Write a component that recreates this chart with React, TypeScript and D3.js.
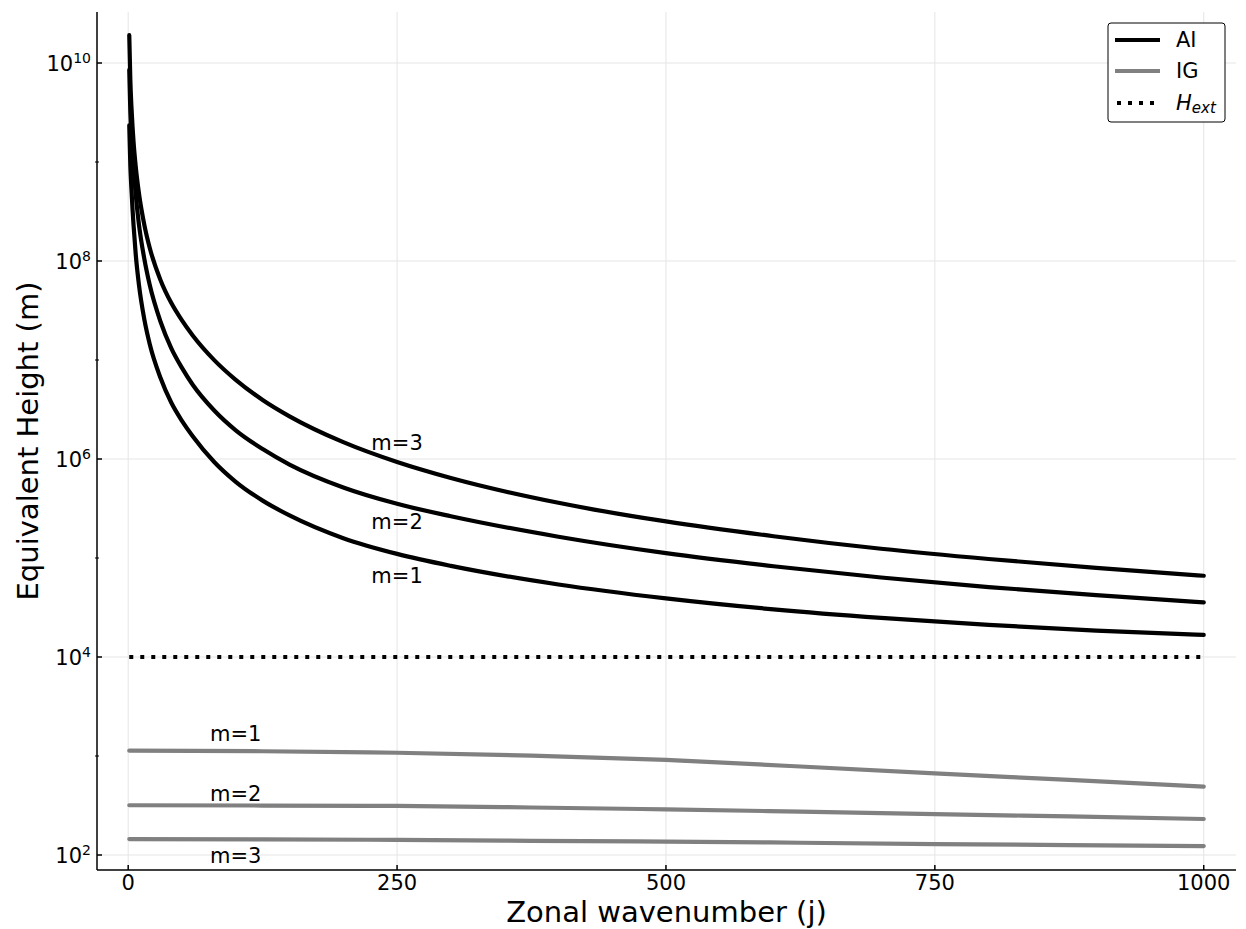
import React from 'react'
import * as d3 from 'd3'

const jAI = [1, 2, 3, 4, 5, 7, 10, 15, 20, 30, 40, 50, 60, 80, 100, 125, 150, 200, 250, 300, 400, 500, 600, 700, 800, 900, 1000]
const aiM1 = [2.34e9, 9.12e8, 5.37e8, 3.39e8, 2.29e8, 1.17e8, 5.75e7, 2.57e7, 1.45e7, 6.61e6, 3.72e6, 2.43e6, 1.7e6, 9.33e5, 5.89e5, 3.8e5, 2.69e5, 1.585e5, 1.1e5, 8.32e4, 5.4e4, 3.91e4, 3.03e4, 2.48e4, 2.11e4, 1.85e4, 1.67e4]
const aiM2 = [8.51e9, 3.16e9, 1.82e9, 1.2e9, 8.51e8, 4.68e8, 2.34e8, 1.05e8, 5.75e7, 2.45e7, 1.32e7, 8.32e6, 5.62e6, 3.09e6, 1.95e6, 1.26e6, 8.79e5, 5.16e5, 3.53e5, 2.64e5, 1.64e5, 1.12e5, 8.26e4, 6.35e4, 5.09e4, 4.22e4, 3.56e4]
const aiM3 = [1.91e10, 6.7e9, 3.65e9, 2.3e9, 1.59e9, 9.0e8, 4.82e8, 2.32e8, 1.36e8, 6.44e7, 3.78e7, 2.51e7, 1.77e7, 9.98e6, 6.31e6, 3.95e6, 2.7e6, 1.48e6, 9.33e5, 6.43e5, 3.61e5, 2.34e5, 1.66e5, 1.24e5, 9.77e4, 7.96e4, 6.62e4]

const jIG = [1, 125, 250, 375, 500, 625, 750, 875, 1000]
const igM1 = [1132, 1117, 1079, 1007, 912, 783, 668, 573, 490]
const igM2 = [318, 316, 313, 302, 289, 274, 259, 245, 231]
const igM3 = [145, 144, 142, 139, 136.5, 133, 129, 126, 123]

const hExt = 1e4
const hExtSpan = [1, 1000]

const xTicks = [0, 250, 500, 750, 1000]
const yMajorExp = [2, 4, 6, 8, 10]
const yMinorExp = [3, 5, 7, 9]

const aiLabels = ['m=1', 'm=2', 'm=3']
const aiLabelJ = [250, 250, 250]
const aiLabelH = [6.6e4, 2.3e5, 1.45e6]
const igLabels = ['m=1', 'm=2', 'm=3']
const igLabelJ = [100, 100, 100]
const igLabelH = [1660, 413, 98]

const W = 1246
const H = 929
const plot = { left: 97, right: 1236, top: 12, bottom: 870 }
const font = 'DejaVu Sans, sans-serif'

export default function App () {
  const x = d3.scaleLinear().domain([-29, 1030]).range([plot.left, plot.right])
  const y = d3.scaleLog().domain([Math.pow(10, 1.8485), Math.pow(10, 10.5152)]).range([plot.bottom, plot.top])

  const aiLine = d3.line<[number, number]>()
    .x(d => x(d[0]))
    .y(d => y(d[1]))
    .curve(d3.curveMonotoneX)
  const igLine = d3.line<[number, number]>()
    .x(d => x(d[0]))
    .y(d => y(d[1]))
    .curve(d3.curveNatural)

  const aiSeries = [aiM1, aiM2, aiM3].map(vals => aiLine(jAI.map((j, i) => [j, vals[i]] as [number, number])))
  const igSeries = [igM1, igM2, igM3].map(vals => igLine(jIG.map((j, i) => [j, vals[i]] as [number, number])))

  const legendX = 1108
  const legendY = 23

  return (
    <svg width={W} height={H} style={{ position: 'absolute', left: 0, top: 0, background: '#fff' }} fontFamily={font}>
      <rect x={0} y={0} width={W} height={H} fill='#fff' />
      {/* grid */}
      <g stroke='#e5e5e5' strokeWidth={1}>
        {xTicks.map(t => <line key={'gx' + t} x1={x(t)} x2={x(t)} y1={plot.top} y2={plot.bottom} />)}
        {yMajorExp.map(e => <line key={'gy' + e} x1={plot.left} x2={plot.right} y1={y(Math.pow(10, e))} y2={y(Math.pow(10, e))} />)}
      </g>

      {/* H_ext */}
      <line x1={x(hExtSpan[0])} x2={x(hExtSpan[1])} y1={y(hExt)} y2={y(hExt)}
        stroke='#000' strokeWidth={4} strokeDasharray='4 7' />

      {/* curves */}
      {igSeries.map((d, i) => <path key={'ig' + i} d={d || ''} fill='none' stroke='#808080' strokeWidth={4.2} strokeLinecap='round' />)}
      {aiSeries.map((d, i) => <path key={'ai' + i} d={d || ''} fill='none' stroke='#000' strokeWidth={4.2} strokeLinecap='round' strokeLinejoin='round' />)}

      {/* annotations */}
      <g fontSize={21} fill='#000' textAnchor='middle' dominantBaseline='central'>
        {aiLabels.map((t, i) => <text key={'al' + i} x={x(aiLabelJ[i])} y={y(aiLabelH[i])}>{t}</text>)}
        {igLabels.map((t, i) => <text key={'il' + i} x={x(igLabelJ[i])} y={y(igLabelH[i])}>{t}</text>)}
      </g>

      {/* axes */}
      <g stroke='#000' strokeWidth={1.5}>
        <line x1={plot.left} x2={plot.left} y1={plot.top} y2={plot.bottom} />
        <line x1={plot.left} x2={plot.right} y1={plot.bottom} y2={plot.bottom} />
        {xTicks.map(t => <line key={'tx' + t} x1={x(t)} x2={x(t)} y1={plot.bottom} y2={plot.bottom - 5} />)}
        {yMajorExp.map(e => <line key={'ty' + e} x1={plot.left} x2={plot.left + 5} y1={y(Math.pow(10, e))} y2={y(Math.pow(10, e))} />)}
        {yMinorExp.map(e => <line key={'tm' + e} x1={plot.left - 2} x2={plot.left + 2} y1={y(Math.pow(10, e))} y2={y(Math.pow(10, e))} strokeWidth={1} />)}
      </g>

      {/* tick labels */}
      <g fontSize={21} fill='#000'>
        {xTicks.map(t => <text key={'lx' + t} x={x(t)} y={plot.bottom + 20} textAnchor='middle'>{t}</text>)}
        {yMajorExp.map(e => (
          <text key={'ly' + e} x={plot.left - 6} y={y(Math.pow(10, e)) + 8} textAnchor='end'>
            10<tspan fontSize={14} dy={-8}>{e}</tspan>
          </text>
        ))}
      </g>

      {/* axis titles */}
      <text x={(plot.left + plot.right) / 2} y={922} textAnchor='middle' fontSize={29} fill='#000'>Zonal wavenumber (j)</text>
      <text transform={`translate(${28}, ${(plot.top + plot.bottom) / 2}) rotate(-90)`} textAnchor='middle' dominantBaseline='central' fontSize={29} fill='#000'>Equivalent Height (m)</text>

      {/* legend */}
      <g>
        <rect x={legendX} y={legendY} width={117} height={99} rx={3} fill='#fff' stroke='#000' strokeWidth={1} />
        <line x1={legendX + 7} x2={legendX + 52} y1={legendY + 17} y2={legendY + 17} stroke='#000' strokeWidth={4} />
        <line x1={legendX + 7} x2={legendX + 52} y1={legendY + 48} y2={legendY + 48} stroke='#808080' strokeWidth={4} />
        <line x1={legendX + 9} x2={legendX + 52} y1={legendY + 80} y2={legendY + 80} stroke='#000' strokeWidth={4} strokeDasharray='4 7' />
        <g fontSize={21} fill='#000' dominantBaseline='central'>
          <text x={legendX + 68} y={legendY + 17}>AI</text>
          <text x={legendX + 68} y={legendY + 48}>IG</text>
          <text x={legendX + 68} y={legendY + 80} fontStyle='italic'>H<tspan fontSize={15} dy={5}>ext</tspan></text>
        </g>
      </g>
    </svg>
  )
}
